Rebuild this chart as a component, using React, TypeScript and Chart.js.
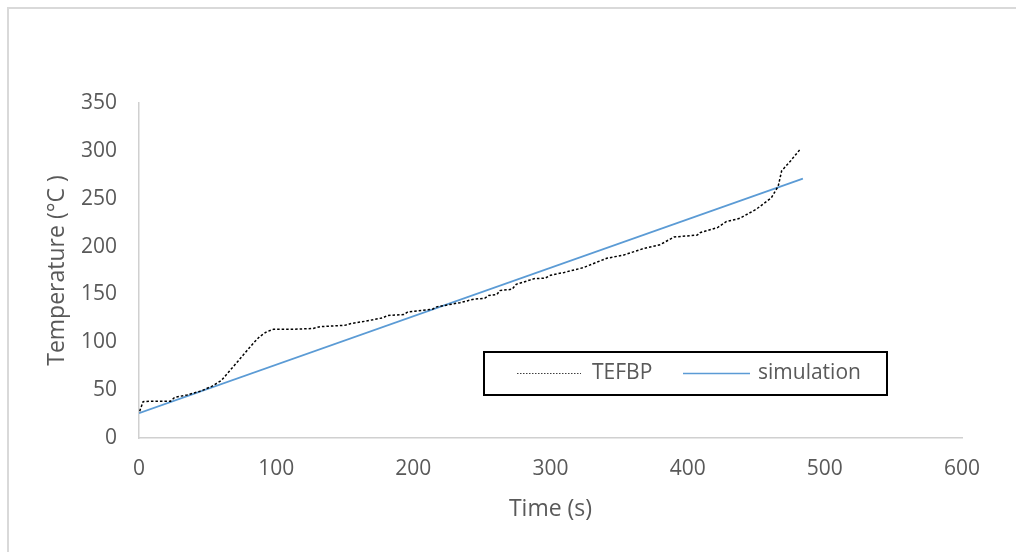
import React, { useEffect, useRef } from "react";
import { Chart, registerables } from "chart.js";

Chart.register(...registerables);

const tefbpTime = [0.5, 3, 10, 23, 26, 35, 45, 53, 60, 66, 72, 78.5, 84, 88, 93, 98, 110, 120, 127, 132, 150, 154, 165, 178, 181, 193, 196, 214, 217, 234, 244, 252, 255, 261, 263, 272, 275, 285, 288, 296, 300, 310, 324, 341, 353, 368, 380, 390, 407, 409, 422, 428, 438, 450, 461, 466, 468.5, 475, 482];
const tefbpTemp = [28, 38, 38.5, 38.5, 42.5, 45, 49, 54, 60, 70, 80, 91, 100, 106, 111, 113.5, 113.5, 114, 114.5, 116.3, 117.7, 119.4, 122, 125.7, 128, 129, 131.7, 134.5, 137, 141.4, 145, 146, 149, 150, 154, 155.4, 160.6, 165, 166.5, 167, 170, 173, 178, 187.8, 191, 198, 202, 210, 212, 214.5, 220, 226, 229.5, 239, 251, 263, 279, 289.5, 301.6];

const simTime = [0, 484];
const simTemp = [26, 271];

const seriesLabels = ["TEFBP", "simulation"];
const xTicks = [0, 100, 200, 300, 400, 500, 600];
const yTicks = [0, 50, 100, 150, 200, 250, 300, 350];

const FONT = "'Open Sans', 'Noto Sans', sans-serif";
const TEXT = "#595959";
const AXIS = "#d0d0d0";

const legendPlugin = {
  id: "boxLegend",
  afterDraw(chart: any) {
    const ctx = chart.ctx;
    const ds = chart.data.datasets;
    ctx.save();
    ctx.fillStyle = "#ffffff";
    ctx.fillRect(484, 352, 403, 43);
    ctx.strokeStyle = "#000000";
    ctx.lineWidth = 2;
    ctx.strokeRect(484, 352, 403, 43);
    const y = 373.5;
    const items = [
      { x1: 517, x2: 581, tx: 592, dash: [1.5, 1.5], w: 1.2, c: "#404040" },
      { x1: 683, x2: 750, tx: 758, dash: [], w: 1.5, c: "" },
    ];
    items.forEach((it, i) => {
      const d = ds[i];
      ctx.beginPath();
      ctx.strokeStyle = it.c || d.borderColor;
      ctx.lineWidth = it.w;
      ctx.setLineDash(it.dash);
      ctx.moveTo(it.x1, y);
      ctx.lineTo(it.x2, y);
      ctx.stroke();
      ctx.setLineDash([]);
      ctx.fillStyle = TEXT;
      ctx.font = `21px ${FONT}`;
      ctx.textBaseline = "middle";
      ctx.textAlign = "left";
      ctx.fillText(d.label, it.tx, y);
    });
    ctx.restore();
  },
};

export default function App() {
  const ref = useRef<HTMLCanvasElement | null>(null);
  useEffect(() => {
    if (!ref.current) return;
    const chart = new Chart(ref.current, {
      type: "line",
      data: {
        datasets: [
          {
            label: seriesLabels[0],
            data: tefbpTime.map((t, i) => ({ x: t, y: tefbpTemp[i] })),
            borderColor: "#000000",
            borderWidth: 1.5,
            borderDash: [2.5, 2],
            pointRadius: 0,
            tension: 0,
          },
          {
            label: seriesLabels[1],
            data: simTime.map((t, i) => ({ x: t, y: simTemp[i] })),
            borderColor: "#5B9BD5",
            borderWidth: 1.75,
            pointRadius: 0,
            tension: 0,
          },
        ],
      },
      options: {
        responsive: false,
        animation: false,
        layout: { padding: { left: 8, top: 103, right: 54, bottom: 7 } },
        plugins: { legend: { display: false }, tooltip: { enabled: false } },
        scales: {
          x: {
            type: "linear",
            min: 0,
            max: 600,
            afterBuildTicks: (s: any) => {
              s.ticks = xTicks.map((v) => ({ value: v }));
            },
            afterFit: (s: any) => {
              s.height = 107;
            },
            grid: { display: false, drawTicks: false },
            border: { display: true, color: AXIS, width: 1.5 },
            ticks: { color: TEXT, font: { family: FONT, size: 21 }, padding: 18, maxRotation: 0 },
            title: {
              display: true,
              text: "Time (s)",
              color: TEXT,
              font: { family: FONT, size: 23 },
              padding: { top: 0, bottom: 22 },
            },
          },
          y: {
            type: "linear",
            min: 0,
            max: 350,
            afterBuildTicks: (s: any) => {
              s.ticks = yTicks.map((v) => ({ value: v }));
            },
            afterFit: (s: any) => {
              s.width = 131;
            },
            grid: { display: false, drawTicks: false },
            border: { display: true, color: AXIS, width: 1.5 },
            ticks: { color: TEXT, font: { family: FONT, size: 21 }, padding: 22 },
            title: {
              display: true,
              text: "Temperature (°C )",
              color: TEXT,
              font: { family: FONT, size: 23 },
              padding: { top: 36, bottom: 0 },
            },
          },
        },
      },
      plugins: [legendPlugin],
    });
    return () => chart.destroy();
  }, []);

  return (
    <div
      style={{
        position: "fixed",
        left: 0,
        top: 0,
        width: 1016,
        height: 552,
        overflow: "hidden",
        background: "#ffffff",
      }}
    >
      <div
        style={{
          position: "absolute",
          left: 7,
          top: 7,
          width: 1100,
          height: 600,
          border: "2px solid #d9d9d9",
        }}
      />
      <canvas
        ref={ref}
        width={1016}
        height={552}
        style={{ position: "absolute", left: 0, top: 0, display: "block" }}
      />
    </div>
  );
}
